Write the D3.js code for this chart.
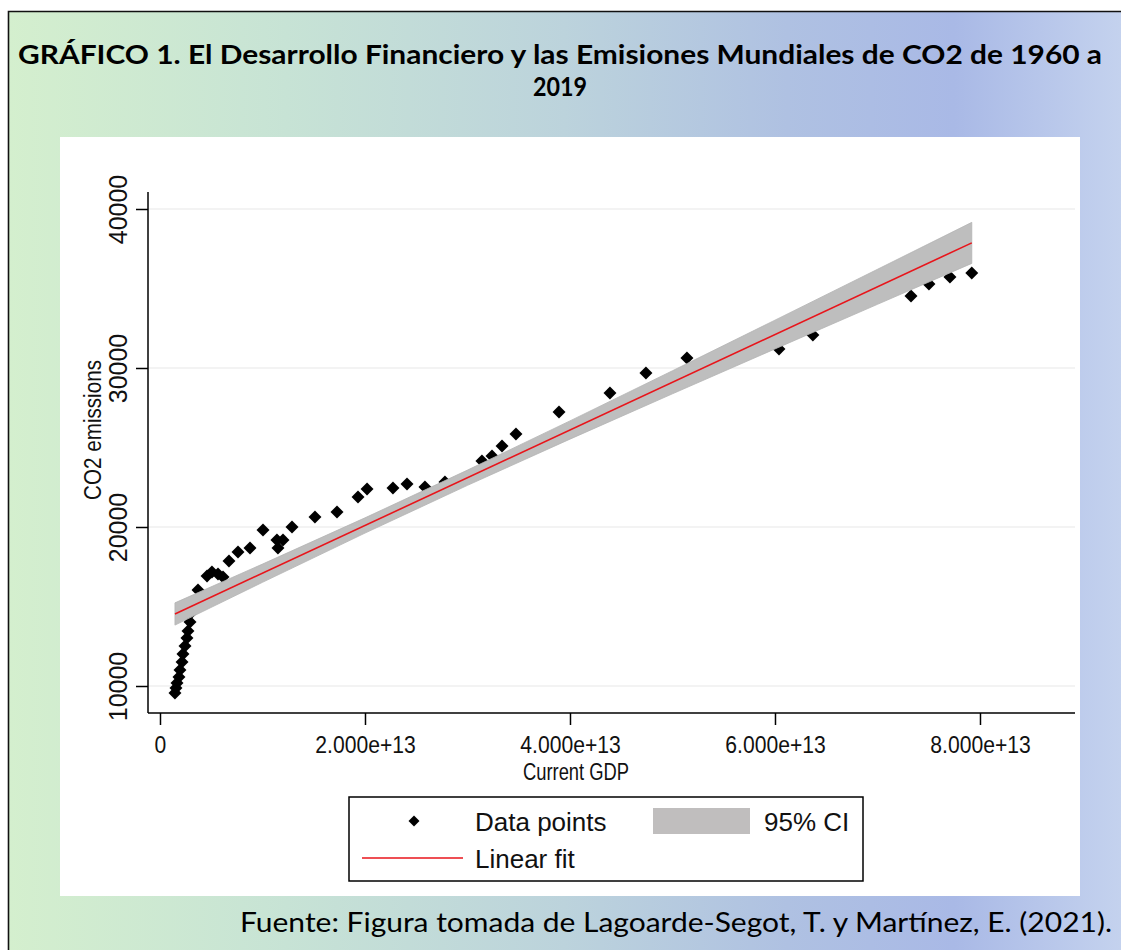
<!DOCTYPE html>
<html><head><meta charset="utf-8">
<script src="https://cdn.jsdelivr.net/npm/d3@7"></script>
<style>body{margin:0;background:#fff;} svg{display:block;}</style>
</head><body>
<script>
// ---- data (GDP in trillions of current USD, CO2 emissions) ----
const gdp = [1.46,1.56,1.66,1.85,1.95,2.15,2.24,2.44,2.63,2.73,2.93,3.12,3.32,3.71,4.59,5.07,5.66,6.15,6.73,7.61,8.78,10.05,11.41,11.51,12.0,12.88,15.12,17.27,19.32,20.2,22.73,24.1,25.85,27.8,31.41,32.39,33.37,34.73,38.93,43.9,47.41,51.41,60.39,63.7,73.27,75.02,77.07,79.2];
const co2 = [9560,9874,10190,10566,11006,11510,12013,12516,13019,13460,14026,14655,15284,16038,16919,17171,17045,16856,17863,18429,18680,19812,19183,18680,19183,20000,20630,20945,21888,22391,22454,22706,22517,22832,24152,24467,25096,25851,27235,28430,29688,30631,31197,32078,34531,35286,35726,35977];
const fitX = [1.46, 79.2];
const fitY = [14530, 37870];
const ciX = [1.46, 10, 20, 30, 40, 50, 60, 70, 79.2];
const ciLower = [13830, 16520, 19616, 22618, 25526, 28377, 31198, 34004, 36580];
const ciUpper = [15230, 17668, 20576, 23578, 26674, 29827, 33010, 36208, 39160];
const yTicks = [10000, 20000, 30000, 40000];
const yTickLabels = ["10000", "20000", "30000", "40000"];
const xTicks = [0, 20, 40, 60, 80];
const xTickLabels = ["0", "2.000e+13", "4.000e+13", "6.000e+13", "8.000e+13"];
const titleLines = ["GRÁFICO 1. El Desarrollo Financiero y las Emisiones Mundiales de CO2 de 1960 a", "2019"];
const xTitle = "Current GDP";
const yTitle = "CO2 emissions";
const legendLabels = ["Data points", "95% CI", "Linear fit"];
const sourceText = "Fuente: Figura tomada de Lagoarde-Segot, T. y Martínez, E. (2021).";

const W = 1121, H = 950;
const svg = d3.select("body").append("svg").attr("width", W).attr("height", H);

// background gradient
const defs = svg.append("defs");
const grad = defs.append("linearGradient").attr("id", "bg").attr("x1", "0").attr("x2", "1").attr("y1", "0").attr("y2", "0");
[[0, "#d4efce"], [0.25, "#c7e3d5"], [0.5, "#bcd3dc"], [0.7, "#afc1e2"], [0.85, "#a9b9e6"], [1, "#c4d2ee"]]
  .forEach(([o, c]) => grad.append("stop").attr("offset", o).attr("stop-color", c));
svg.append("rect").attr("x", 8).attr("y", 11).attr("width", W - 8).attr("height", H - 11).attr("fill", "url(#bg)");
svg.append("path").attr("d", `M8.5,${H} V11.5 H${W}`).attr("fill", "none").attr("stroke", "#111").attr("stroke-width", 1.6);

// title
const titleG = svg.append("g").attr("font-family", "Lato, 'Open Sans', sans-serif").attr("font-weight", "bold").attr("font-size", 26).attr("fill", "#000");
titleG.append("text").attr("x", 560).attr("y", 64).attr("text-anchor", "middle").attr("textLength", 1084).attr("lengthAdjust", "spacingAndGlyphs").text(titleLines[0]);
titleG.append("text").attr("x", 560).attr("y", 96).attr("text-anchor", "middle").attr("textLength", 54).attr("lengthAdjust", "spacingAndGlyphs").text(titleLines[1]);

// white panel
svg.append("rect").attr("x", 60).attr("y", 137).attr("width", 1020).attr("height", 759).attr("fill", "#fff");

// scales
const x = d3.scaleLinear().domain([-1.17, 89.27]).range([148, 1075]);
const y = d3.scaleLinear().domain([8302, 41069]).range([713, 192]);

const plot = svg.append("g").attr("font-family", "'Liberation Sans', Arial, sans-serif");

// gridlines
plot.append("g").selectAll("line").data(yTicks).join("line")
  .attr("x1", 148).attr("x2", 1075).attr("y1", d => y(d)).attr("y2", d => y(d))
  .attr("stroke", "#e8e8e8").attr("stroke-width", 1.2);

// points
const diamond = d3.symbol(d3.symbolSquare, 84);
plot.append("g").selectAll("path").data(gdp.map((g, i) => [g, co2[i]])).join("path")
  .attr("d", diamond)
  .attr("transform", d => `translate(${x(d[0])},${y(d[1])}) rotate(45)`)
  .attr("fill", "#000");

// CI band
const ci = ciX.map((v, i) => ({ x: v, lo: ciLower[i], hi: ciUpper[i] }));
plot.append("path").datum(ci)
  .attr("d", d3.area().x(d => x(d.x)).y0(d => y(d.lo)).y1(d => y(d.hi)))
  .attr("fill", "#bebebe").attr("stroke", "#b4b4b4").attr("stroke-width", 0.8);

// fit line
plot.append("path").datum(fitX.map((v, i) => [v, fitY[i]]))
  .attr("d", d3.line().x(d => x(d[0])).y(d => y(d[1])))
  .attr("fill", "none").attr("stroke", "#e8151b").attr("stroke-width", 1.6);

// axes
const yAxis = plot.append("g").attr("transform", "translate(148,0)")
  .call(d3.axisLeft(y).tickValues(yTicks).tickFormat((d, i) => yTickLabels[i]).tickSize(12).tickSizeOuter(0));
yAxis.attr("font-family", null).attr("font-size", null);
yAxis.select(".domain").attr("d", `M0,192V713`).attr("stroke", "#000").attr("stroke-width", 1.5);
yAxis.selectAll(".tick line").attr("stroke", "#000").attr("stroke-width", 1.5);
yAxis.selectAll(".tick text")
  .attr("transform", "rotate(-90)").attr("x", 0).attr("y", -21).attr("dy", null)
  .attr("text-anchor", "middle").attr("font-size", 25).attr("fill", "#111");

const xAxis = plot.append("g").attr("transform", "translate(0,713)")
  .call(d3.axisBottom(x).tickValues(xTicks).tickFormat((d, i) => xTickLabels[i]).tickSize(12).tickSizeOuter(0));
xAxis.attr("font-family", null).attr("font-size", null);
xAxis.select(".domain").attr("d", `M148,0H1075`).attr("stroke", "#000").attr("stroke-width", 1.5);
xAxis.selectAll(".tick line").attr("stroke", "#000").attr("stroke-width", 1.5);
xAxis.selectAll(".tick text").attr("y", 40).attr("dy", null).attr("font-size", 24).attr("fill", "#111")
  .each(function () { const t = d3.select(this); t.attr("textLength", this.getComputedTextLength() * 0.88).attr("lengthAdjust", "spacingAndGlyphs"); });

// axis titles
plot.append("text").attr("x", 576).attr("y", 780).attr("text-anchor", "middle").attr("font-size", 23).attr("fill", "#111")
  .attr("textLength", 106).attr("lengthAdjust", "spacingAndGlyphs").text(xTitle);
plot.append("text").attr("transform", "translate(101,430) rotate(-90)").attr("text-anchor", "middle").attr("font-size", 23).attr("fill", "#111")
  .attr("textLength", 140).attr("lengthAdjust", "spacingAndGlyphs").text(yTitle);

// legend
const lg = plot.append("g");
lg.append("rect").attr("x", 349).attr("y", 797).attr("width", 514).attr("height", 84).attr("fill", "#fff").attr("stroke", "#000").attr("stroke-width", 1.5);
lg.append("path").attr("d", d3.symbol(d3.symbolSquare, 60)).attr("transform", "translate(414,821) rotate(45)").attr("fill", "#000");
lg.append("text").attr("x", 475).attr("y", 831).attr("font-size", 26).attr("fill", "#111").text(legendLabels[0]);
lg.append("rect").attr("x", 653).attr("y", 808).attr("width", 97).attr("height", 26).attr("fill", "#c0bebe");
lg.append("text").attr("x", 764).attr("y", 831).attr("font-size", 26).attr("fill", "#111").text(legendLabels[1]);
lg.append("line").attr("x1", 362).attr("x2", 463).attr("y1", 858).attr("y2", 858).attr("stroke", "#e8151b").attr("stroke-width", 1.6);
lg.append("text").attr("x", 475).attr("y", 868).attr("font-size", 26).attr("fill", "#111").text(legendLabels[2]);

// source
svg.append("text").attr("x", 1112).attr("y", 932).attr("text-anchor", "end")
  .attr("font-family", "Lato, 'Open Sans', sans-serif").attr("font-size", 26).attr("fill", "#000")
  .attr("textLength", 872).attr("lengthAdjust", "spacingAndGlyphs").text(sourceText);
</script>
</body></html>
